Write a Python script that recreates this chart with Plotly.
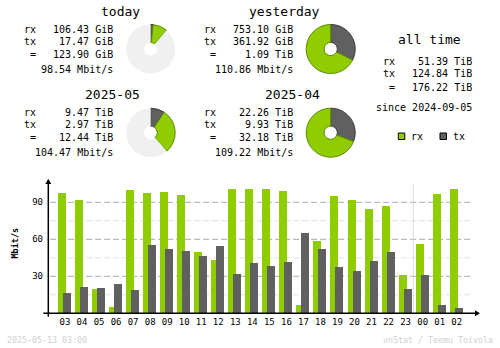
import plotly.graph_objects as go

W, H = 500, 348

# ---- traffic summaries ----
today_rx, today_tx = 106.43, 17.47          # GiB
yday_rx, yday_tx = 753.10, 361.92           # GiB
may_rx, may_tx = 9.47, 2.97                 # TiB
apr_rx, apr_tx = 22.26, 9.93                # TiB

today_lines = ["106.43 GiB", "17.47 GiB", "123.90 GiB", "98.54 Mbit/s"]
yday_lines = ["753.10 GiB", "361.92 GiB", "1.09 TiB", "110.86 Mbit/s"]
may_lines = ["9.47 TiB", "2.97 TiB", "12.44 TiB", "104.47 Mbit/s"]
apr_lines = ["22.26 TiB", "9.93 TiB", "32.18 TiB", "109.22 Mbit/s"]
alltime_lines = ["51.39 TiB", "124.84 TiB", "176.22 TiB"]
since_text = "since 2024-09-05"

# ---- hourly average rates (Mbit/s) ----
hours = ["03", "04", "05", "06", "07", "08", "09", "10", "11", "12", "13", "14",
         "15", "16", "17", "18", "19", "20", "21", "22", "23", "00", "01", "02"]
rx_rate = [97.6, 91.9, 19.7, 5.1, 100.0, 97.6, 98.4, 95.9, 49.7, 43.2, 100.8, 100.8,
           100.8, 99.2, 6.8, 58.6, 95.1, 91.9, 84.6, 87.0, 31.1, 56.2, 96.8, 100.8]
tx_rate = [16.5, 21.4, 20.5, 23.8, 18.9, 55.4, 52.2, 50.5, 46.5, 54.6, 31.9, 40.8,
           38.4, 41.6, 65.1, 52.2, 37.6, 34.3, 42.4, 49.7, 19.7, 31.1, 6.8, 4.3]
y_major = [30, 60, 90]
y_minor = [15, 45, 75]
day_break = 20.45  # between 23 and 00

RX = "#90CD00"
TX = "#606060"
RX_EDGE = "#5E8C00"
TX_EDGE = "#3A3A3A"
REST = "#F0F0F0"
FONT = "DejaVu Sans Mono"

fig = go.Figure()


def px_x(x):
    return x / W


def px_y(y):
    return 1 - y / H


def add_donut(cx, cy, rx, tx, full, r=24.5):
    rest = max(full - rx - tx, 0)
    fig.add_trace(go.Pie(
        values=[tx, rx, rest],
        sort=False, direction="clockwise", rotation=0,
        hole=0.27, textinfo="none", hoverinfo="skip", showlegend=False,
        marker=dict(colors=[TX, RX, REST],
                    line=dict(color=[TX_EDGE, RX_EDGE, REST], width=[1, 1, 0])),
        domain=dict(x=[px_x(cx - r), px_x(cx + r)], y=[px_y(cy + r), px_y(cy - r)]),
    ))


day_full = max(today_rx + today_tx, yday_rx + yday_tx)
month_full = max(may_rx + may_tx, apr_rx + apr_tx)
add_donut(150.7, 49, today_rx, today_tx, day_full)
add_donut(330.7, 49, yday_rx, yday_tx, day_full)
add_donut(150.7, 132.7, may_rx, may_tx, month_full)
add_donut(330.7, 132.7, apr_rx, apr_tx, month_full)

# ---- hourly bars ----
slot = 17.03
idx = list(range(len(hours)))
fig.add_trace(go.Bar(x=idx, y=rx_rate, marker=dict(color=RX, line=dict(width=0)),
                     offset=-7 / slot, width=8 / slot, hoverinfo="skip", showlegend=False))
fig.add_trace(go.Bar(x=idx, y=tx_rate, marker=dict(color=TX, line=dict(width=0)),
                     offset=-2 / slot, width=8 / slot, hoverinfo="skip", showlegend=False))

annotations = []


def text(x, y, s, size=10, anchor="right", color="#000000", **kw):
    annotations.append(dict(x=px_x(x), y=px_y(y), xref="paper", yref="paper", text=s,
                            showarrow=False, xanchor=anchor, yanchor="middle",
                            font=dict(family=FONT, size=size, color=color), **kw))


def block(xoff, ytop, title, lines):
    text(142 + xoff, ytop, title, size=13)
    rows = [ytop + 18.3, ytop + 30.3, ytop + 43.5, ytop + 58]
    for lab, yy in zip(["rx", "tx", "="], rows[:3]):
        text(37.5 + xoff, yy, lab)
    for s, yy in zip(lines, rows):
        text(115 + xoff, yy, s)


block(0, 11, "today", today_lines)
block(180, 11, "yesterday", yday_lines)
block(0, 94.3, "2025-05", may_lines)
block(180, 94.3, "2025-04", apr_lines)

text(429, 39.7, "all time", size=13, anchor="center")
for lab, s, yy in zip(["rx", "tx", "="], alltime_lines, [61.7, 73.7, 87.7]):
    text(397, yy, lab)
    text(474, yy, s)
text(474, 108, since_text)
text(409, 136, "rx", anchor="left")
text(451, 136, "tx", anchor="left")

text(5, 340, "2025-05-13 03:00", size=8.3, anchor="left", color="#D0D0D0")
text(495, 340, "vnStat / Teemu Toivola", size=8.3, anchor="right", color="#D0D0D0")
annotations.append(dict(x=px_x(14.5), y=px_y(243), xref="paper", yref="paper",
                        text="<b>Mbit/s</b>", textangle=-90, showarrow=False,
                        xanchor="center", yanchor="middle",
                        font=dict(family=FONT, size=8.5, color="#000000")))

shapes = []
# legend swatches
for x0, fill in [(398.3, RX), (440, TX)]:
    shapes.append(dict(type="rect", xref="paper", yref="paper",
                       x0=px_x(x0), x1=px_x(x0 + 6.5), y0=px_y(139.5), y1=px_y(133),
                       fillcolor=fill, line=dict(color="#000000", width=1)))
# grid lines
for v in y_minor:
    shapes.append(dict(type="line", xref="x domain", yref="y", x0=0.005, x1=0.984, y0=v, y1=v,
                       line=dict(color="#E0E0E0", width=1, dash="6px,3px"), layer="below"))
for v in y_major:
    shapes.append(dict(type="line", xref="x domain", yref="y", x0=0.005, x1=0.984, y0=v, y1=v,
                       line=dict(color="#A8A8A8", width=1, dash="6px,3px"), layer="below"))
# separator between days
shapes.append(dict(type="line", xref="x", yref="y", x0=day_break, x1=day_break, y0=0, y1=104.8,
                   line=dict(color="#DCDCDC", width=1), layer="below"))
# axes with arrow heads
shapes.append(dict(type="line", xref="paper", yref="paper", x0=px_x(48.3), x1=px_x(48.3),
                   y0=px_y(316.7), y1=px_y(180), line=dict(color="#000000", width=1.5)))
shapes.append(dict(type="line", xref="paper", yref="paper", x0=px_x(43.3), x1=px_x(478),
                   y0=px_y(313.3), y1=px_y(313.3), line=dict(color="#000000", width=1.5)))
shapes.append(dict(type="path", xref="paper", yref="paper",
                   path=f"M {px_x(45.3)} {px_y(184)} L {px_x(48.3)} {px_y(179)} L {px_x(51.3)} {px_y(184)} Z",
                   fillcolor="#000000", line=dict(width=0)))
shapes.append(dict(type="path", xref="paper", yref="paper",
                   path=f"M {px_x(475)} {px_y(310.3)} L {px_x(480)} {px_y(313.3)} L {px_x(475)} {px_y(316.3)} Z",
                   fillcolor="#000000", line=dict(width=0)))

fig.update_layout(
    width=W, height=H, margin=dict(l=0, r=0, t=0, b=0),
    paper_bgcolor="#FFFFFF", plot_bgcolor="rgba(0,0,0,0)",
    barmode="overlay", bargap=0, showlegend=False,
    annotations=annotations, shapes=shapes,
    xaxis=dict(domain=[48 / W, 479 / W], range=[-0.998, 24.31], showgrid=False,
               zeroline=False, showline=False, tickmode="array", tickvals=idx,
               ticktext=hours, ticks="", ticklabelstandoff=2,
               tickfont=dict(family=FONT, size=9, color="#000000")),
    yaxis=dict(domain=[1 - 313.3 / H, 1 - 180 / H], range=[0, 108.08], showgrid=False,
               zeroline=False, showline=False, tickmode="array", tickvals=y_major,
               ticks="", ticklabelstandoff=4,
               tickfont=dict(family=FONT, size=9, color="#000000")),
)

fig.write_html("out.html")
